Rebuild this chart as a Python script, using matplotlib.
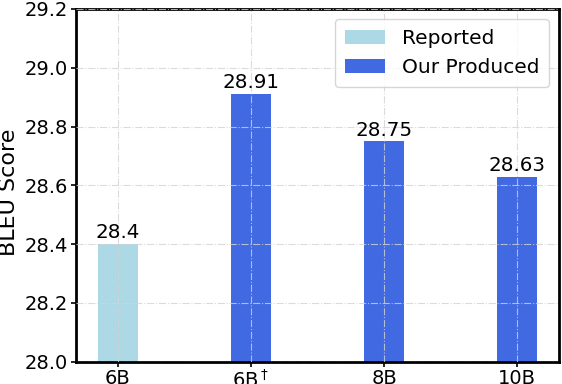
import matplotlib
matplotlib.use("Agg")
import matplotlib.pyplot as plt

categories = ["6B", "6B$^\\dagger$", "8B", "10B"]
values = [28.4, 28.91, 28.75, 28.63]
labels = ["28.4", "28.91", "28.75", "28.63"]
series = ["Reported", "Our Produced", "Our Produced", "Our Produced"]
colors = {"Reported": "lightblue", "Our Produced": "royalblue"}

fig, ax = plt.subplots(figsize=(5.62, 3.84), dpi=100)
fig.subplots_adjust(left=0.135, right=0.995, top=0.9766, bottom=0.058)

x = list(range(len(categories)))
used = set()
for xi, v, s, lab in zip(x, values, series, labels):
    ax.bar(xi, v - 28.0, bottom=28.0, width=0.3, color=colors[s],
           label=s if s not in used else None, zorder=1)
    used.add(s)
    ax.text(xi, v + 0.006, lab, ha="center", va="bottom", fontsize=14.3)

ax.set_ylim(28.0, 29.2)
ax.set_xlim(-0.315, 3.315)
ax.set_yticks([28.0, 28.2, 28.4, 28.6, 28.8, 29.0, 29.2])
ax.set_yticklabels(["28.0", "28.2", "28.4", "28.6", "28.8", "29.0", "29.2"])
ax.set_xticks(x)
ax.set_xticklabels(categories)
ax.tick_params(labelsize=14, width=1.2, length=3.5, pad=2)
ax.tick_params(axis="x", pad=2)
ax.set_ylabel("BLEU Score", fontsize=16)
ax.yaxis.set_label_coords(-0.118, 0.48)
ax.grid(True, linestyle="-.", color="lightgray", linewidth=0.8, alpha=0.8, zorder=2)
ax.set_axisbelow(False)
for sp in ax.spines.values():
    sp.set_linewidth(2)
ax.legend(loc="upper right", fontsize=14.5, handlelength=2.0, borderpad=0.5)

fig.savefig("out.png", dpi=100)
